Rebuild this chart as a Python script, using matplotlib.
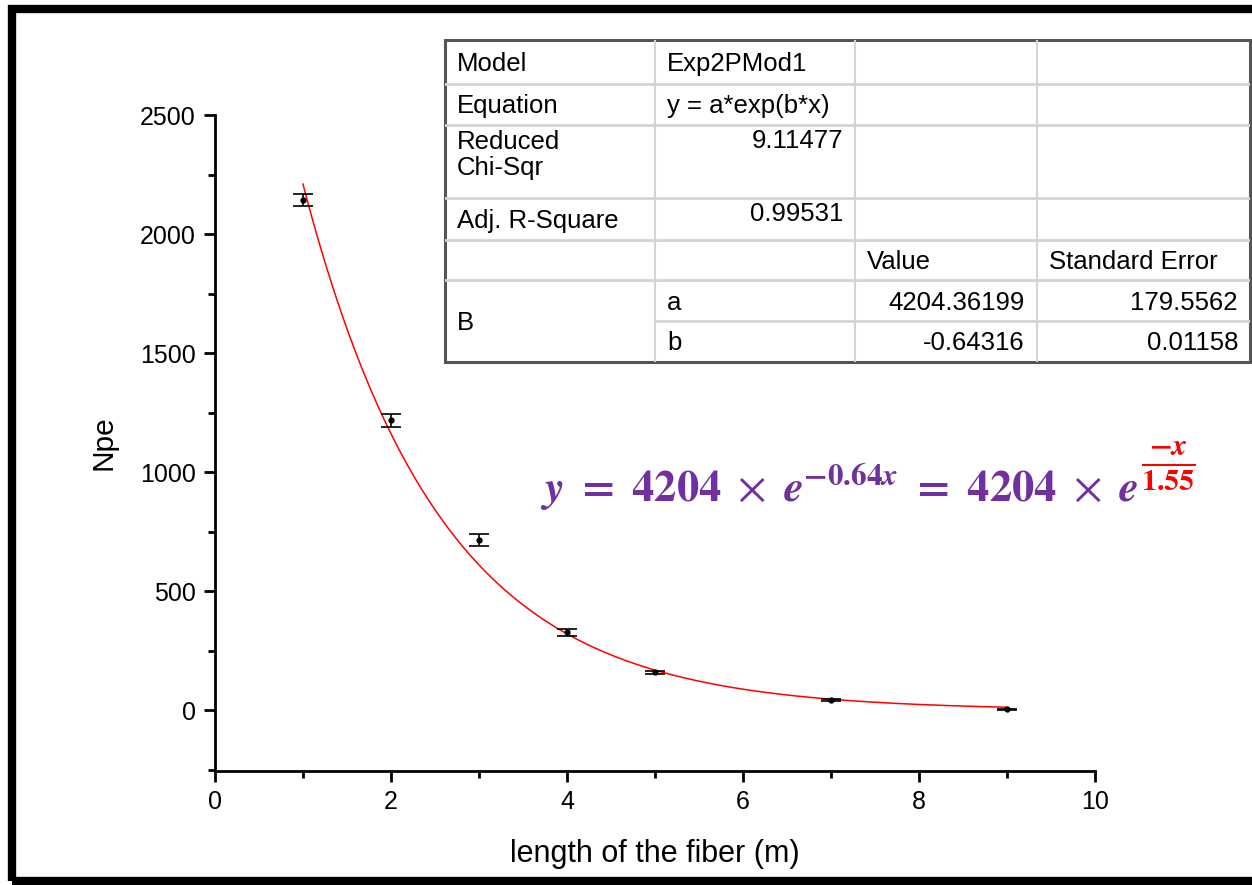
import numpy as np
import matplotlib.pyplot as plt
from matplotlib.patches import Rectangle
from matplotlib.text import Annotation
from matplotlib.ticker import MultipleLocator

plt.rcParams['font.family'] = ['Liberation Sans', 'DejaVu Sans']
plt.rcParams['mathtext.fontset'] = 'stix'

# data
length = [1, 2, 3, 4, 5, 7, 9]
npe = [2143, 1218, 714, 328, 160, 42, 4]
npe_err = [27, 27, 25, 14, 6, 4, 3]

# fit parameters (from the table)
fit_a = 4204.36199
fit_b = -0.64316

table_rows = [
    ['Model', 'Exp2PMod1', '', ''],
    ['Equation', 'y = a*exp(b*x)', '', ''],
    ['Reduced\nChi-Sqr', '9.11477', '', ''],
    ['Adj. R-Square', '0.99531', '', ''],
    ['', '', 'Value', 'Standard Error'],
    ['B', 'a', '4204.36199', '179.5562'],
    ['', 'b', '-0.64316', '0.01158'],
]

fig = plt.figure(figsize=(12.52, 8.85), dpi=100)
ax = fig.add_axes([0.1717, 0.1288, 0.7029, 0.7412])

ax.errorbar(length, npe, yerr=npe_err, fmt='o', color='black', ms=3.5,
            capsize=7, elinewidth=1.2, capthick=1.2, zorder=3)
xf = np.linspace(min(length), max(length), 300)
ax.plot(xf, fit_a * np.exp(fit_b * xf), color='red', lw=1.1, zorder=2)

ax.set_xlim(0, 10)
ax.set_ylim(-255, 2500)
ax.xaxis.set_major_locator(MultipleLocator(2))
ax.xaxis.set_minor_locator(MultipleLocator(1))
ax.yaxis.set_major_locator(MultipleLocator(500))
ax.yaxis.set_minor_locator(MultipleLocator(250))
for s in ['top', 'right']:
    ax.spines[s].set_visible(False)
for s in ['left', 'bottom']:
    ax.spines[s].set_linewidth(2)
ax.tick_params(which='major', length=8, width=2, labelsize=18, pad=6)
ax.tick_params(which='minor', length=5, width=2)
ax.set_xlabel('length of the fiber (m)', fontsize=22, labelpad=18)
ax.set_ylabel('Npe', fontsize=21.5, labelpad=16)

# fit report table (pixel layout relative to table box)
col_edges = [0, 210, 410, 592, 805]
row_edges = [0, 44, 85, 158, 200, 240, 281, 322]
tx0, ty0 = 445, 40
W, H = 1252, 885
tab = fig.add_axes([tx0 / W, 1 - (ty0 + row_edges[-1]) / H,
                    col_edges[-1] / W, row_edges[-1] / H])
tab.set_xlim(0, col_edges[-1])
tab.set_ylim(row_edges[-1], 0)
tab.axis('off')
grid_c = '#d4d4d4'
for yy in row_edges[1:-1]:
    x_start = col_edges[1] if yy == row_edges[6] else 0
    tab.plot([x_start, col_edges[-1]], [yy, yy], color=grid_c, lw=2)
for xx in col_edges[1:-1]:
    tab.plot([xx, xx], [0, row_edges[-1]], color=grid_c, lw=1.5)
tab.add_patch(Rectangle((0, 0), col_edges[-1], row_edges[-1], fill=False,
                        edgecolor='#555555', lw=2.2, clip_on=False))

fs_tab = 18.5
right_cols = {(2, 1), (3, 1), (5, 2), (5, 3), (6, 2), (6, 3)}
for r, row in enumerate(table_rows):
    for c, txt in enumerate(row):
        if not txt:
            continue
        top, bot = row_edges[r], row_edges[r + 1]
        if r == 5 and c == 0:
            bot = row_edges[7]
        if (r, c) in right_cols:
            x, ha = col_edges[c + 1] - 12, 'right'
        else:
            x, ha = col_edges[c] + 12, 'left'
        if r in (2, 3) and c == 1:
            tab.text(x, top + 4, txt, ha=ha, va='top', fontsize=fs_tab)
        elif r == 2 and c == 0:
            tab.text(x, top + 5, txt, ha=ha, va='top', fontsize=fs_tab,
                     linespacing=1.1)
        else:
            tab.text(x, (top + bot) / 2 + 2, txt, ha=ha, va='center',
                     fontsize=fs_tab)

# equation annotation
purple = '#7030A0'
main_eq = fig.text(
    540 / W, 1 - 502 / H,
    r'$\mathbfit{y}\ \mathbf{=}\ \mathbf{4204}\ \times\ '
    r'\mathbfit{e}^{\mathbf{-0.64}\mathbfit{x}}\ \mathbf{=}\ '
    r'\mathbf{4204}\ \times\ \mathbfit{e}$',
    color=purple, fontsize=32, ha='left', va='baseline')
frac = Annotation(r'$\frac{\mathbf{-}\mathbfit{x}}{\mathbf{1.55}}$',
                  xy=(1, 0), xycoords=main_eq,
                  xytext=(2, 16), textcoords='offset points',
                  color='red', fontsize=31, ha='left', va='bottom')
fig.add_artist(frac)

# black frame
fig.patches.append(Rectangle((11.5 / W, 4.5 / H), 1.2, 1 - 13 / H,
                             transform=fig.transFigure, fill=False,
                             edgecolor='black', lw=6, figure=fig))

fig.savefig('out.png', dpi=100)
